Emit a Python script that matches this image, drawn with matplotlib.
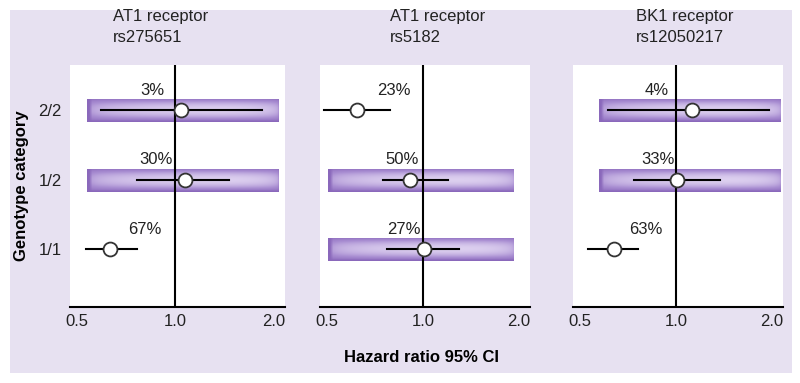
import numpy as np
import matplotlib.pyplot as plt
from matplotlib.patches import Rectangle
from matplotlib.colors import LinearSegmentedColormap

plt.rcParams['font.family'] = ['Liberation Sans', 'DejaVu Sans']

# genotype rows, bottom to top
genotypes = ['1/1', '1/2', '2/2']

titles = ['AT1 receptor\nrs275651', 'AT1 receptor\nrs5182', 'BK1 receptor\nrs12050217']

# hazard ratio and 95% CI per panel, rows ordered 1/1, 1/2, 2/2
hr = [[0.63, 1.07, 1.04],
      [1.01, 0.91, 0.62],
      [0.64, 1.01, 1.12]]
ci_low = [[0.53, 0.76, 0.59],
          [0.77, 0.75, 0.49],
          [0.53, 0.74, 0.61]]
ci_high = [[0.76, 1.46, 1.85],
           [1.30, 1.20, 0.79],
           [0.76, 1.38, 1.96]]
freq = [['67%', '30%', '3%'],
        ['27%', '50%', '23%'],
        ['63%', '33%', '4%']]
# rows that carry the shaded band
band = [[False, True, True],
        [True, True, False],
        [False, True, True]]
band_x = [(0.535, 2.08), (0.505, 1.95), (0.575, 2.15)]
# nudge of the % labels left of the reference line (points)
label_nudge = [[-10, -2, -8],
               [-2, -3, -9],
               [-10, -1, -5]]

lavender = '#e7e1f1'
edge_purple = '#8a68bb'
light_purple = '#dccfef'

fig = plt.figure(figsize=(8, 3.83), dpi=100)
fig.patch.set_facecolor('white')
fig.patches.append(Rectangle((10 / 800, 10 / 383), 782 / 800, 363 / 383,
                             transform=fig.transFigure, facecolor=lavender,
                             edgecolor='none', zorder=-5))

# soft glow for the bands
U, V = np.meshgrid(np.linspace(0, 1, 120), np.linspace(0, 1, 24))
glow = np.sin(np.pi * U) ** 0.12 * np.sin(np.pi * V) ** 0.7
cmap = LinearSegmentedColormap.from_list('glow', [edge_purple, '#a98ed2', light_purple])

lefts = [70, 320, 573]
widths = [215, 210, 210]
bottom = (383 - 307) / 383
height = 242 / 383

for i in range(3):
    ax = fig.add_axes([lefts[i] / 800, bottom, widths[i] / 800, height])
    ax.set_facecolor('white')
    ax.set_xscale('log')
    ax.set_xlim(0.475, 2.17)
    ax.set_ylim(0.17, 3.65)
    y = np.arange(1, 4)

    for j in range(3):
        if band[i][j]:
            ax.imshow(glow, cmap=cmap, aspect='auto', interpolation='bilinear',
                      extent=(band_x[i][0], band_x[i][1], y[j] - 0.17, y[j] + 0.17),
                      zorder=1)
        ax.plot([ci_low[i][j], ci_high[i][j]], [y[j], y[j]], color='black', lw=1.5, zorder=3)
        ax.plot(hr[i][j], y[j], 'o', ms=10, mfc='white', mec='#333333', mew=1.3, zorder=4)
        ax.annotate(freq[i][j], (1.0, y[j] + 0.29), xytext=(label_nudge[i][j], 0),
                    textcoords='offset points', fontsize=12, ha='right', va='center',
                    color='#222222', zorder=5)

    ax.axvline(1.0, color='black', lw=1.5, zorder=2)
    ax.set_xlim(0.475, 2.17)
    ax.set_ylim(0.17, 3.65)

    for s in ['top', 'right', 'left']:
        ax.spines[s].set_visible(False)
    ax.spines['bottom'].set_linewidth(1.5)
    ax.set_xticks([0.5, 1.0, 2.0])
    ax.set_xticklabels(['0.5', '1.0', '2.0'])
    ax.xaxis.set_minor_locator(plt.NullLocator())
    ax.tick_params(axis='x', length=0, labelsize=12, pad=5, colors='#222222')
    if i == 0:
        ax.set_yticks(y)
        ax.set_yticklabels(genotypes)
        ax.tick_params(axis='y', length=0, labelsize=12, pad=6, colors='#222222')
        ax.set_ylabel('Genotype category', fontsize=12, fontweight='bold', labelpad=7)
    else:
        ax.set_yticks([])

    fig.text([113, 390, 636][i] / 800, 1 - 9 / 383, titles[i], ha='left', va='top',
             fontsize=12, linespacing=1.5, color='#222222')

fig.text(422 / 800, 1 - 357 / 383, 'Hazard ratio 95% CI', ha='center', va='center',
         fontsize=12, fontweight='bold')

fig.savefig('out.png', dpi=100)
